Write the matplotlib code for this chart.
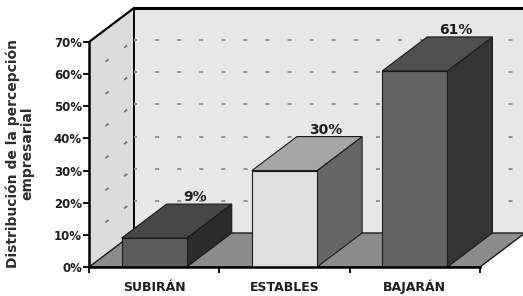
import matplotlib
matplotlib.use('Agg')
import matplotlib.pyplot as plt
from matplotlib.patches import Polygon
from matplotlib.transforms import offset_copy

plt.rcParams['lines.scale_dashes'] = False

# ---------------- data ----------------
categories = ['SUBIRÁN', 'ESTABLES', 'BAJARÁN']
values = [9, 30, 61]
value_labels = ['9%', '30%', '61%']
yticks = [0, 10, 20, 30, 40, 50, 60, 70]
ytick_labels = ['0%', '10%', '20%', '30%', '40%', '50%', '60%', '70%']
ylabel = 'Distribución de la percepción\nempresarial'

# ---------------- style ----------------
front_colors = ['#5c5c5c', '#e0e0e0', '#636363']
top_colors = ['#474747', '#a6a6a6', '#505050']
side_colors = ['#2b2b2b', '#666666', '#343434']
wall_color = '#e7e7e7'
side_wall_color = '#dcdcdc'
floor_color = '#8c8c8c'
edge = '#1a1a1a'

W, H = 523, 296
fig = plt.figure(figsize=(W / 100, H / 100), dpi=100)
fig.patch.set_facecolor('white')
ax_l, ax_b, ax_w, ax_h = 89, 267, 391, 225  # pixels
ax = fig.add_axes([ax_l / W, (H - ax_b) / H, ax_w / W, ax_h / H])
ax.set_facecolor('none')

n = len(categories)
ymax = yticks[-1]
ax.set_xlim(0, n)
ax.set_ylim(0, ymax)

# depth offset (pixels -> data units)
DX = 45 / (ax_w / n)
DY = 34 / (ax_h / ymax)
XR = n + 0.4  # back wall runs off the right edge

# back wall
ax.add_patch(Polygon([(DX, DY), (XR + DX, DY), (XR + DX, ymax + DY), (DX, ymax + DY)],
                     closed=True, facecolor=wall_color, edgecolor='none', zorder=1, clip_on=False))
ax.plot([DX, XR + DX], [ymax + DY, ymax + DY], color='black', lw=2.2, zorder=1.5,
        clip_on=False, solid_capstyle='butt')
ax.plot([DX, DX], [DY, ymax + DY], color='black', lw=1.4, zorder=1.5, clip_on=False)

# side wall
ax.add_patch(Polygon([(0, 0), (0, ymax), (DX, ymax + DY), (DX, DY)],
                     closed=True, facecolor=side_wall_color, edgecolor='none', zorder=1, clip_on=False))
ax.plot([0, DX], [ymax, ymax + DY], color='black', lw=1.6, zorder=1.5, clip_on=False)

# gridlines on back wall and side wall
for y in yticks[1:-1]:
    ax.plot([DX, XR + DX], [y + DY, y + DY], color='#8a8a8a', lw=1.3, zorder=1.6,
            linestyle=(0.7, (2.9, 13.0)), clip_on=False)
    ax.plot([0, DX], [y, y + DY], color='#6a6a6a', lw=1.2, zorder=1.6,
            linestyle=(2.0, (2.9, 13.9)), clip_on=False)

# floor
ax.add_patch(Polygon([(0, 0), (n, 0), (n + DX, DY), (DX, DY)],
                     closed=True, facecolor=floor_color, edgecolor=edge, lw=1.0, zorder=2, clip_on=False))

# bars
for i, (h, lab) in enumerate(zip(values, value_labels)):
    x0, x1 = i + 0.25, i + 0.75
    z = 3 + i * 0.1
    ax.add_patch(Polygon([(x1, 0), (x1 + DX, DY), (x1 + DX, h + DY), (x1, h)],
                         closed=True, facecolor=side_colors[i], edgecolor=edge, lw=0.8, zorder=z, clip_on=False))
    ax.add_patch(Polygon([(x0, h), (x1, h), (x1 + DX, h + DY), (x0 + DX, h + DY)],
                         closed=True, facecolor=top_colors[i], edgecolor=edge, lw=0.8, zorder=z, clip_on=False))
    ax.add_patch(Polygon([(x0, 0), (x1, 0), (x1, h), (x0, h)],
                         closed=True, facecolor=front_colors[i], edgecolor=edge, lw=0.8, zorder=z, clip_on=False))
    ax.text(i + 0.5 + DX - 0.03, h + DY, lab, ha='center', va='bottom',
            fontsize=10, fontweight='bold', color='#1e1e1e', family='DejaVu Sans', zorder=6)

# axes / ticks
for s in ['top', 'right']:
    ax.spines[s].set_visible(False)
for s in ['left', 'bottom']:
    ax.spines[s].set_linewidth(1.8)
    ax.spines[s].set_color('black')
    ax.spines[s].set_zorder(10)

ax.set_yticks(yticks)
ax.set_yticklabels(ytick_labels, fontsize=8.5, fontweight='bold', color='#1e1e1e')
ax.tick_params(axis='y', direction='out', length=4, width=1.3, pad=1)

ax.set_xticks(list(range(n + 1)))
ax.set_xticklabels([''] * (n + 1))
ax.tick_params(axis='x', which='major', direction='out', length=4, width=1.3)

# category labels on a common baseline
cat_tr = offset_copy(ax.transData, fig=fig, x=0, y=-24, units='dots')
for i, cat in enumerate(categories):
    ax.text(i + 0.5, 0, cat, transform=cat_tr, ha='center', va='baseline',
            fontsize=9, fontweight='bold', color='#1e1e1e', clip_on=False)

fig.text(20 / W, 1 - 153 / H, ylabel, rotation=90, ha='center', va='center',
         multialignment='center', fontsize=10, fontweight='bold', color='#2e2e2e',
         linespacing=1.0)

fig.savefig('out.png', dpi=100)
